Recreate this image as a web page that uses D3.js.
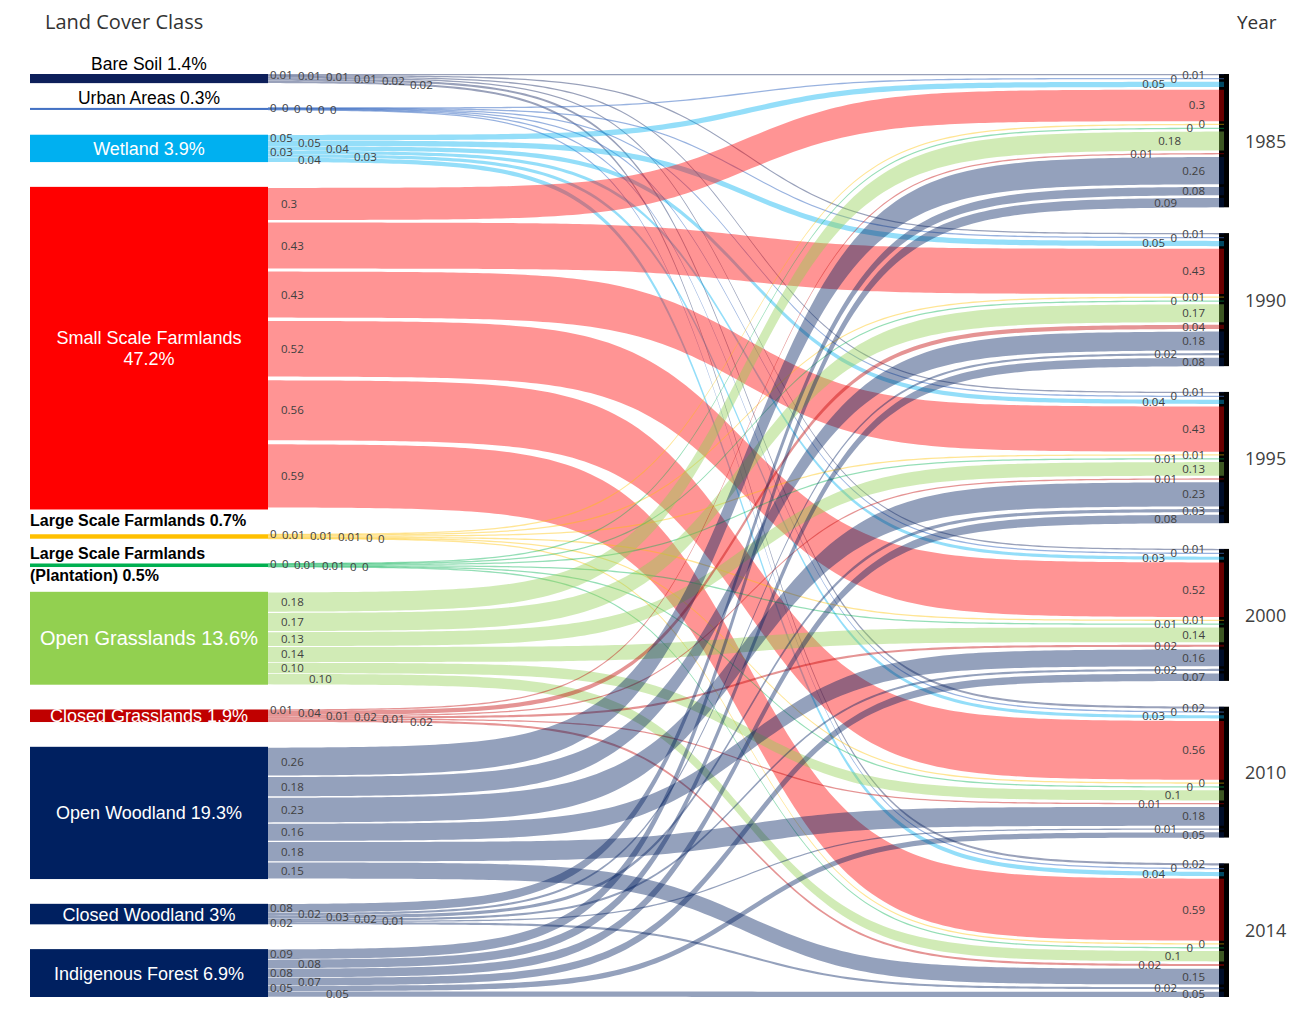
<!DOCTYPE html>
<html><head><meta charset="utf-8">
<script src="https://cdn.jsdelivr.net/npm/d3@7"></script>
<style>
body{margin:0;background:#fff;}
svg{display:block;}
</style>
</head><body>
<svg id="chart" width="1300" height="1023"></svg>
<script>
// ---------- DATA ----------
const years = ["1985", "1990", "1995", "2000", "2010", "2014"];
const classes = ["Bare Soil", "Urban Areas", "Wetland", "Small Scale Farmlands", "Large Scale Farmlands",
  "Large Scale Farmlands (Plantation)", "Open Grasslands", "Closed Grasslands", "Open Woodland",
  "Closed Woodland", "Indigenous Forest"];
const shares = ["1.4%", "0.3%", "3.9%", "47.2%", "0.7%", "0.5%", "13.6%", "1.9%", "19.3%", "3%", "6.9%"];
// share of each year's area (1985, 1990, 1995, 2000, 2010, 2014)
const bareSoil = [0.01, 0.01, 0.01, 0.01, 0.02, 0.02];
const urbanAreas = [0.002, 0.002, 0.003, 0.003, 0.004, 0.004];
const wetland = [0.05, 0.05, 0.04, 0.03, 0.03, 0.04];
const smallScaleFarmlands = [0.30, 0.43, 0.43, 0.52, 0.56, 0.59];
const largeScaleFarmlands = [0.004, 0.009, 0.009, 0.009, 0.004, 0.004];
const plantation = [0.003, 0.004, 0.008, 0.008, 0.004, 0.004];
const openGrasslands = [0.18, 0.17, 0.13, 0.14, 0.097, 0.098];
const closedGrasslands = [0.01, 0.04, 0.01, 0.02, 0.01, 0.02];
const openWoodland = [0.26, 0.18, 0.23, 0.16, 0.18, 0.15];
const closedWoodland = [0.08, 0.02, 0.03, 0.02, 0.01, 0.02];
const indigenousForest = [0.09, 0.08, 0.08, 0.07, 0.05, 0.05];
const classColors = ["#0d1f5a", "#4472c4", "#00b0f0", "#ff0000", "#ffc000", "#00b050",
  "#92d050", "#c00000", "#002060", "#002060", "#002060"];

const series = [bareSoil, urbanAreas, wetland, smallScaleFarmlands, largeScaleFarmlands, plantation,
  openGrasslands, closedGrasslands, openWoodland, closedWoodland, indigenousForest];

// ---------- LAYOUT ----------
const svg = d3.select("#chart");
const X_NODE0 = 30, X_NODE1 = 268, X_BAR0 = 1219, X_BAR1 = 1229, X_LINK_END = 1224;
const TOP = 74, BOTTOM = 997;
const slotL = d3.scaleLinear().domain([0, 1]).range([0, 114]);
const bandL = d3.scaleLinear().domain([0, 1]).range([0, 107]);
const bandR = d3.scaleLinear().domain([0, 1]).range([0, 105]);
const GAP_R = 2.6, MIN_T = 1.3;

// left nodes
const leftH = series.map(s => d3.sum(s, v => slotL(v)));
const padL = (BOTTOM - TOP - d3.sum(leftH)) / (classes.length - 1);
const leftNodes = [];
let yy = TOP;
classes.forEach((c, i) => { leftNodes.push({name: c, y0: yy, y1: yy + leftH[i]}); yy += leftH[i] + padL; });

// links
const links = [];
series.forEach((s, i) => {
  let y = leftNodes[i].y0;
  s.forEach((v, j) => {
    const sl = slotL(v);
    links.push({ci: i, yi: j, v: v, yL: y + sl / 2, tL: Math.max(MIN_T, bandL(v)), tR: Math.max(MIN_T, bandR(v))});
    y += sl;
  });
});

// right nodes
const rightH = years.map((yr, j) => {
  const ls = links.filter(l => l.yi === j);
  return d3.sum(ls, l => l.tR) + GAP_R * (ls.length - 1);
});
const padR = (BOTTOM - TOP - d3.sum(rightH)) / (years.length - 1);
const rightNodes = [];
yy = TOP;
years.forEach((yr, j) => {
  rightNodes.push({name: yr, y0: yy, y1: yy + rightH[j]});
  let y = yy;
  links.filter(l => l.yi === j).sort((a, b) => a.ci - b.ci).forEach(l => { l.yR = y + l.tR / 2; y += l.tR + GAP_R; });
  yy += rightH[j] + padR;
});

// sigmoid curve helpers
const T = 8;
const sig = t => 1 / (1 + Math.exp(-t));
const s0 = sig(-T), s1 = sig(T);
const xs = d3.scaleLinear().domain([0, 1]).range([X_NODE1, X_LINK_END]);
const frac = x => { const u = (x - X_NODE1) / (X_LINK_END - X_NODE1); return (sig(-T + 2 * T * u) - s0) / (s1 - s0); };
const centerAt = (l, x) => l.yL + (l.yR - l.yL) * frac(x);

// ---------- DRAW ----------
// right black bars (drawn under link ends)
svg.append("g").selectAll("rect").data(rightNodes).join("rect")
  .attr("x", X_BAR0).attr("width", X_BAR1 - X_BAR0)
  .attr("y", d => d.y0).attr("height", d => d.y1 - d.y0).attr("fill", "#000");

const area = d3.area().x(d => d.x).y0(d => d.y0).y1(d => d.y1);
const N = 160;
svg.append("g").selectAll("path").data(links).join("path")
  .attr("d", l => {
    const pts = d3.range(N + 1).map(k => {
      const x = xs(k / N);
      const f = frac(x);
      const yc = l.yL + (l.yR - l.yL) * f;
      const t = l.tL + (l.tR - l.tL) * f;
      return {x: x, y0: yc - t / 2, y1: yc + t / 2};
    });
    return area(pts);
  })
  .attr("fill", l => classColors[l.ci])
  .attr("fill-opacity", l => l.ci === 1 ? 0.55 : 0.42);

// left node bars
svg.append("g").selectAll("rect").data(leftNodes).join("rect")
  .attr("x", X_NODE0).attr("width", X_NODE1 - X_NODE0)
  .attr("y", d => d.y0).attr("height", d => Math.max(1, d.y1 - d.y0))
  .attr("fill", (d, i) => classColors[i]);

// node labels
const nl = svg.append("g").attr("font-family", "'Liberation Sans', Arial, sans-serif");
const cx = (X_NODE0 + X_NODE1) / 2;
leftNodes.forEach((n, i) => {
  const mid = (n.y0 + n.y1) / 2;
  const label = classes[i] + " " + shares[i];
  if (i === 0 || i === 1) {
    nl.append("text").attr("x", cx).attr("y", n.y0 - 4).attr("text-anchor", "middle")
      .attr("font-size", 17.5).attr("fill", "#000").text(label);
  } else if (i === 4) {
    nl.append("text").attr("x", X_NODE0).attr("y", n.y0 - 8).attr("font-size", 16).attr("font-weight", "bold")
      .attr("fill", "#000").text(label);
  } else if (i === 5) {
    nl.append("text").attr("x", X_NODE0).attr("y", n.y0 - 4).attr("font-size", 16).attr("font-weight", "bold")
      .attr("fill", "#000").text("Large Scale Farmlands");
    nl.append("text").attr("x", X_NODE0).attr("y", n.y1 + 14).attr("font-size", 16).attr("font-weight", "bold")
      .attr("fill", "#000").text("(Plantation) " + shares[i]);
  } else if (i === 3) {
    nl.append("text").attr("x", cx).attr("y", mid - 4).attr("text-anchor", "middle")
      .attr("font-size", 18).attr("fill", "#fff").text(classes[i]);
    nl.append("text").attr("x", cx).attr("y", mid + 17).attr("text-anchor", "middle")
      .attr("font-size", 18).attr("fill", "#fff").text(shares[i]);
  } else {
    nl.append("text").attr("x", cx).attr("y", mid + 6.5).attr("text-anchor", "middle")
      .attr("font-size", i === 6 ? 20 : 18).attr("fill", "#fff").text(label);
  }
});

// titles and year labels
const tl = svg.append("g").attr("font-family", "'Open Sans', sans-serif").attr("fill", "#333");
tl.append("text").attr("x", 45).attr("y", 29).attr("font-size", 20).text("Land Cover Class");
tl.append("text").attr("x", 1237).attr("y", 29).attr("font-size", 19).text("Year");
rightNodes.forEach(n => {
  tl.append("text").attr("x", 1245).attr("y", (n.y0 + n.y1) / 2 + 7).attr("font-size", 18)
    .attr("fill", "#404040").text(n.name);
});

// link value labels with simple collision avoidance
const fmtR = d3.format(".2~f");
const fmtL = v => {
  const r = Math.round(v * 100) / 100;
  if (r === 0) return "0";
  return Math.abs(v - r) < 1e-9 ? fmtR(v) : r.toFixed(2);
};
const lab = svg.append("g").attr("font-family", "'Open Sans', sans-serif").attr("font-size", 11.5).attr("fill", "#404040");
const boxes = [];
const overlaps = b => boxes.some(o => b.x0 < o.x1 && b.x1 > o.x0 && b.y0 < o.y1 && b.y1 > o.y0);
const wOf = s => s.replace(/\./g, "").length * 6.8 + (s.includes(".") ? 3.2 : 0);

// left side
links.slice().sort((a, b) => a.ci - b.ci || a.yi - b.yi).forEach(l => {
  const s = fmtL(l.v), w = wOf(s);
  const x0 = l.tL >= 10 ? 281 : 270;
  for (let x = x0; x < 500; x += 4) {
    const y = centerAt(l, x + w / 2) + 4;
    const b = {x0: x - 1, x1: x + w + 1, y0: y - 10.5, y1: y + 3};
    if (!overlaps(b)) { boxes.push(b); lab.append("text").attr("x", x).attr("y", y).text(s); break; }
  }
});
// right side
links.slice().sort((a, b) => a.yi - b.yi || a.ci - b.ci).forEach(l => {
  const s = fmtR(l.v), w = wOf(s);
  for (let xe = 1205; xe > 1020; xe -= 4) {
    const y = centerAt(l, xe - w / 2) + 4;
    const b = {x0: xe - w - 1, x1: xe + 1, y0: y - 10.5, y1: y + 3};
    if (!overlaps(b)) { boxes.push(b); lab.append("text").attr("x", xe).attr("y", y).attr("text-anchor", "end").text(s); break; }
  }
});
</script>
</body></html>
